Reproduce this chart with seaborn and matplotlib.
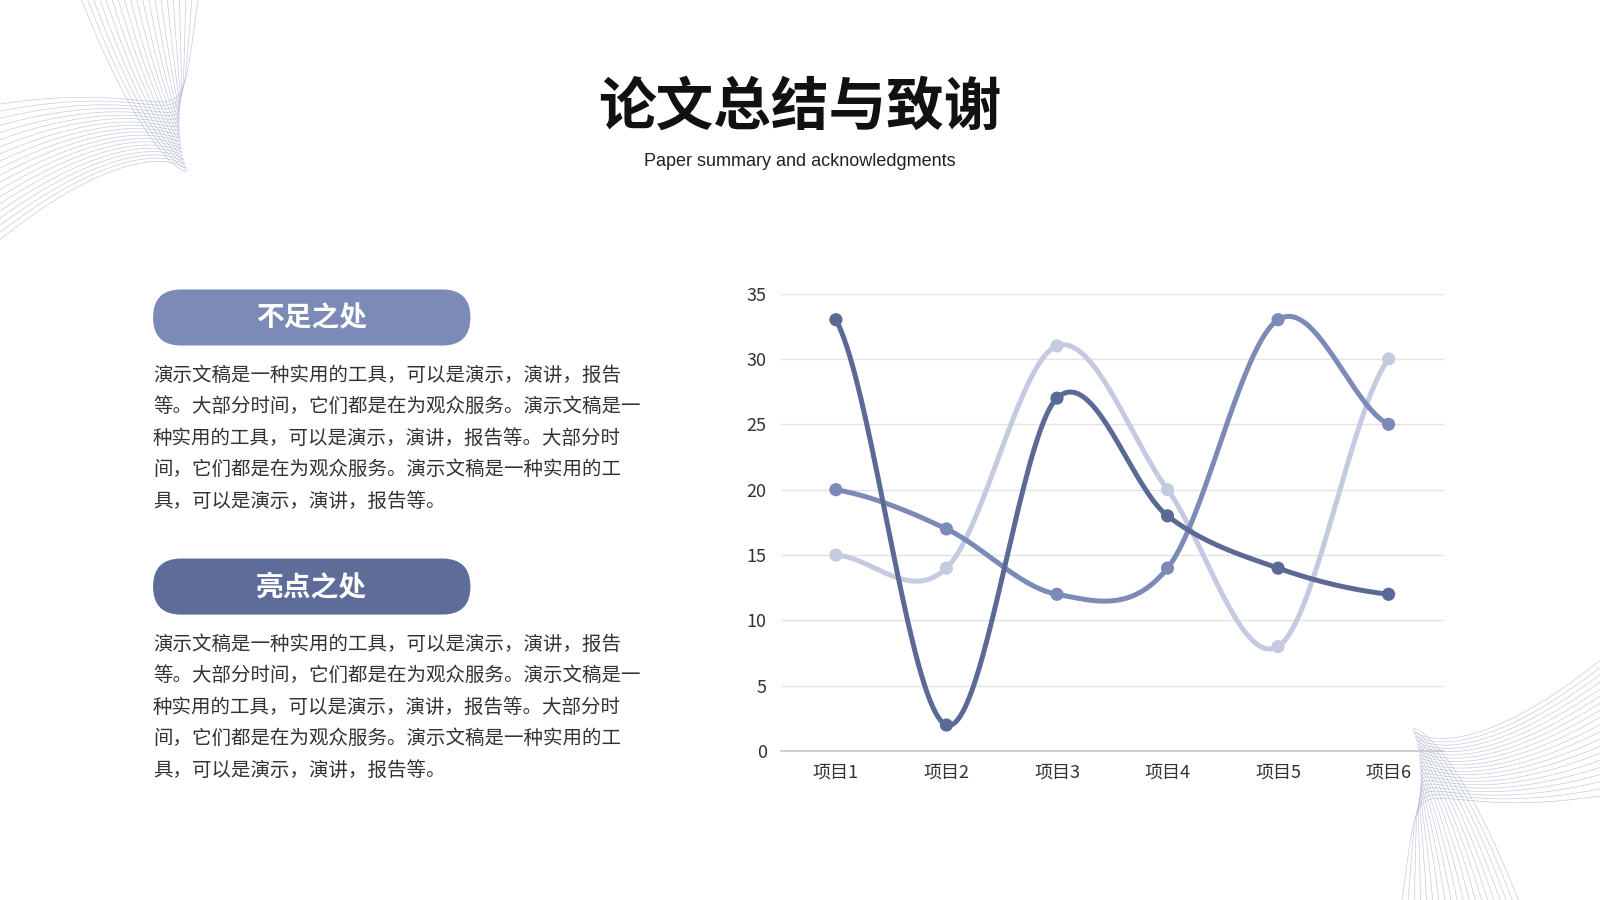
import numpy as np
import pandas as pd
import seaborn as sns
import matplotlib.pyplot as plt
from matplotlib.patches import FancyBboxPatch

# chart data
categories = ["项目1", "项目2", "项目3", "项目4", "项目5", "项目6"]
series_a = [33, 2, 27, 18, 14, 12]    # dark
series_b = [20, 17, 12, 14, 33, 25]   # mid
series_c = [15, 14, 31, 20, 8, 30]    # light
series_names = ["系列1", "系列2", "系列3"]
colors = {"系列1": "#5b6996", "系列2": "#7b8ab6", "系列3": "#c4cbe0"}
y_ticks = [0, 5, 10, 15, 20, 25, 30, 35]

title = "论文总结与致谢"
subtitle = "Paper summary and acknowledgments"
heading1 = "不足之处"
heading2 = "亮点之处"
body_lines = [
    "演示文稿是一种实用的工具，可以是演示，演讲，报告",
    "等。大部分时间，它们都是在为观众服务。演示文稿是一",
    "种实用的工具，可以是演示，演讲，报告等。大部分时",
    "间，它们都是在为观众服务。演示文稿是一种实用的工",
    "具，可以是演示，演讲，报告等。",
]

sns.set_theme(style="white")
plt.rcParams["font.family"] = ["Noto Sans CJK SC", "DejaVu Sans"]

fig = plt.figure(figsize=(16, 9), dpi=100)
fig.patch.set_facecolor("white")

# overlay in reference pixel coords (1568 x 883)
bg = fig.add_axes([0, 0, 1, 1], zorder=0)
bg.set_xlim(0, 1568)
bg.set_ylim(883, 0)
bg.axis("off")


def bezier(p0, p1, p2, p3, n=200):
    t = np.linspace(0, 1, n)[:, None]
    return ((1 - t) ** 3) * p0 + 3 * ((1 - t) ** 2) * t * p1 + 3 * (1 - t) * t ** 2 * p2 + t ** 3 * p3


# decorative twisted ribbon, top-left and mirrored bottom-right
for k in range(20):
    p0 = np.array([0, 235 - 7 * k])
    p1 = np.array([250 - 3 * k, 35 + 2 * k])
    p2 = np.array([210 - 2 * k, 330 - 9 * k])
    p3 = np.array([80 + 6 * k, 0])
    pts = bezier(p0, p1, p2, p3)
    for flip in (False, True):
        xs, ys = pts[:, 0], pts[:, 1]
        if flip:
            xs, ys = 1568 - xs, 883 - ys
        bg.plot(xs, ys, color="#8f9aba", lw=0.5, alpha=0.5)

# title
bg.text(784, 106, title, ha="center", va="center", fontsize=41.5,
        fontweight="heavy", color="#111111")
bg.text(784, 158, subtitle, ha="center", va="center", fontsize=13,
        color="#222222", family=["Liberation Sans", "DejaVu Sans"])

# pills and paragraphs
for top, head, col in [(284, heading1, "#7b8ab6"), (548, heading2, "#5d6c98")]:
    pill = FancyBboxPatch((150, top), 311, 55,
                          boxstyle="round,pad=0,rounding_size=27.5",
                          facecolor=col, edgecolor="none")
    bg.add_patch(pill)
    bg.text(305.5, top + 28, head, ha="center", va="center", fontsize=20,
            fontweight="bold", color="white")
    for i, line in enumerate(body_lines):
        bg.text(150, top + 84 + 31 * i, line, ha="left", va="center",
                fontsize=14, color="#333333")


def smooth(vals, n=40):
    # Catmull-Rom curve through the data points (like Excel's smoothed line)
    v = np.asarray(vals, dtype=float)
    xs, ys = [], []
    for i in range(len(v) - 1):
        p0 = v[i - 1] if i > 0 else v[i]
        p1, p2 = v[i], v[i + 1]
        p3 = v[i + 2] if i + 2 < len(v) else v[i + 1]
        t = np.linspace(0, 1, n, endpoint=False)
        y = 0.5 * (2 * p1 + (-p0 + p2) * t + (2 * p0 - 5 * p1 + 4 * p2 - p3) * t ** 2
                   + (-p0 + 3 * p1 - 3 * p2 + p3) * t ** 3)
        xs.append(i + t)
        ys.append(y)
    xs.append([len(v) - 1])
    ys.append([v[-1]])
    return np.concatenate(xs), np.concatenate(ys)


df = pd.DataFrame({
    "x": list(range(len(categories))) * 3,
    "value": series_a + series_b + series_c,
    "series": [n for n in series_names for _ in categories],
})

ax = fig.add_axes([765 / 1568, 1 - 737 / 883, 650 / 1568, 449 / 883], zorder=2)
ax.patch.set_alpha(0)

for name, vals in [("系列3", series_c), ("系列2", series_b), ("系列1", series_a)]:
    sx, sy = smooth(vals)
    ax.plot(sx, sy, color=colors[name], lw=3.6, solid_capstyle="round", zorder=3)
    sub = df[df["series"] == name]
    sns.scatterplot(data=sub, x="x", y="value", color=colors[name], s=90,
                    edgecolor="none", ax=ax, zorder=4, legend=False)

ax.set_xlim(-0.5, 5.5)
ax.set_ylim(0, 35)
ax.set_yticks(y_ticks)
ax.set_xticks(range(len(categories)))
ax.set_xticklabels(categories)
ax.set_xlabel("")
ax.set_ylabel("")
ax.grid(axis="y", color="#e3e3e3", lw=1)
ax.set_axisbelow(True)
for s in ["top", "right", "left"]:
    ax.spines[s].set_visible(False)
ax.spines["bottom"].set_color("#c8c8c8")
ax.spines["bottom"].set_linewidth(1.2)
ax.tick_params(axis="both", length=0, labelsize=13, labelcolor="#333333")
ax.tick_params(axis="y", pad=10)
ax.tick_params(axis="x", pad=9)

fig.savefig("out.png", dpi=100, facecolor="white")
